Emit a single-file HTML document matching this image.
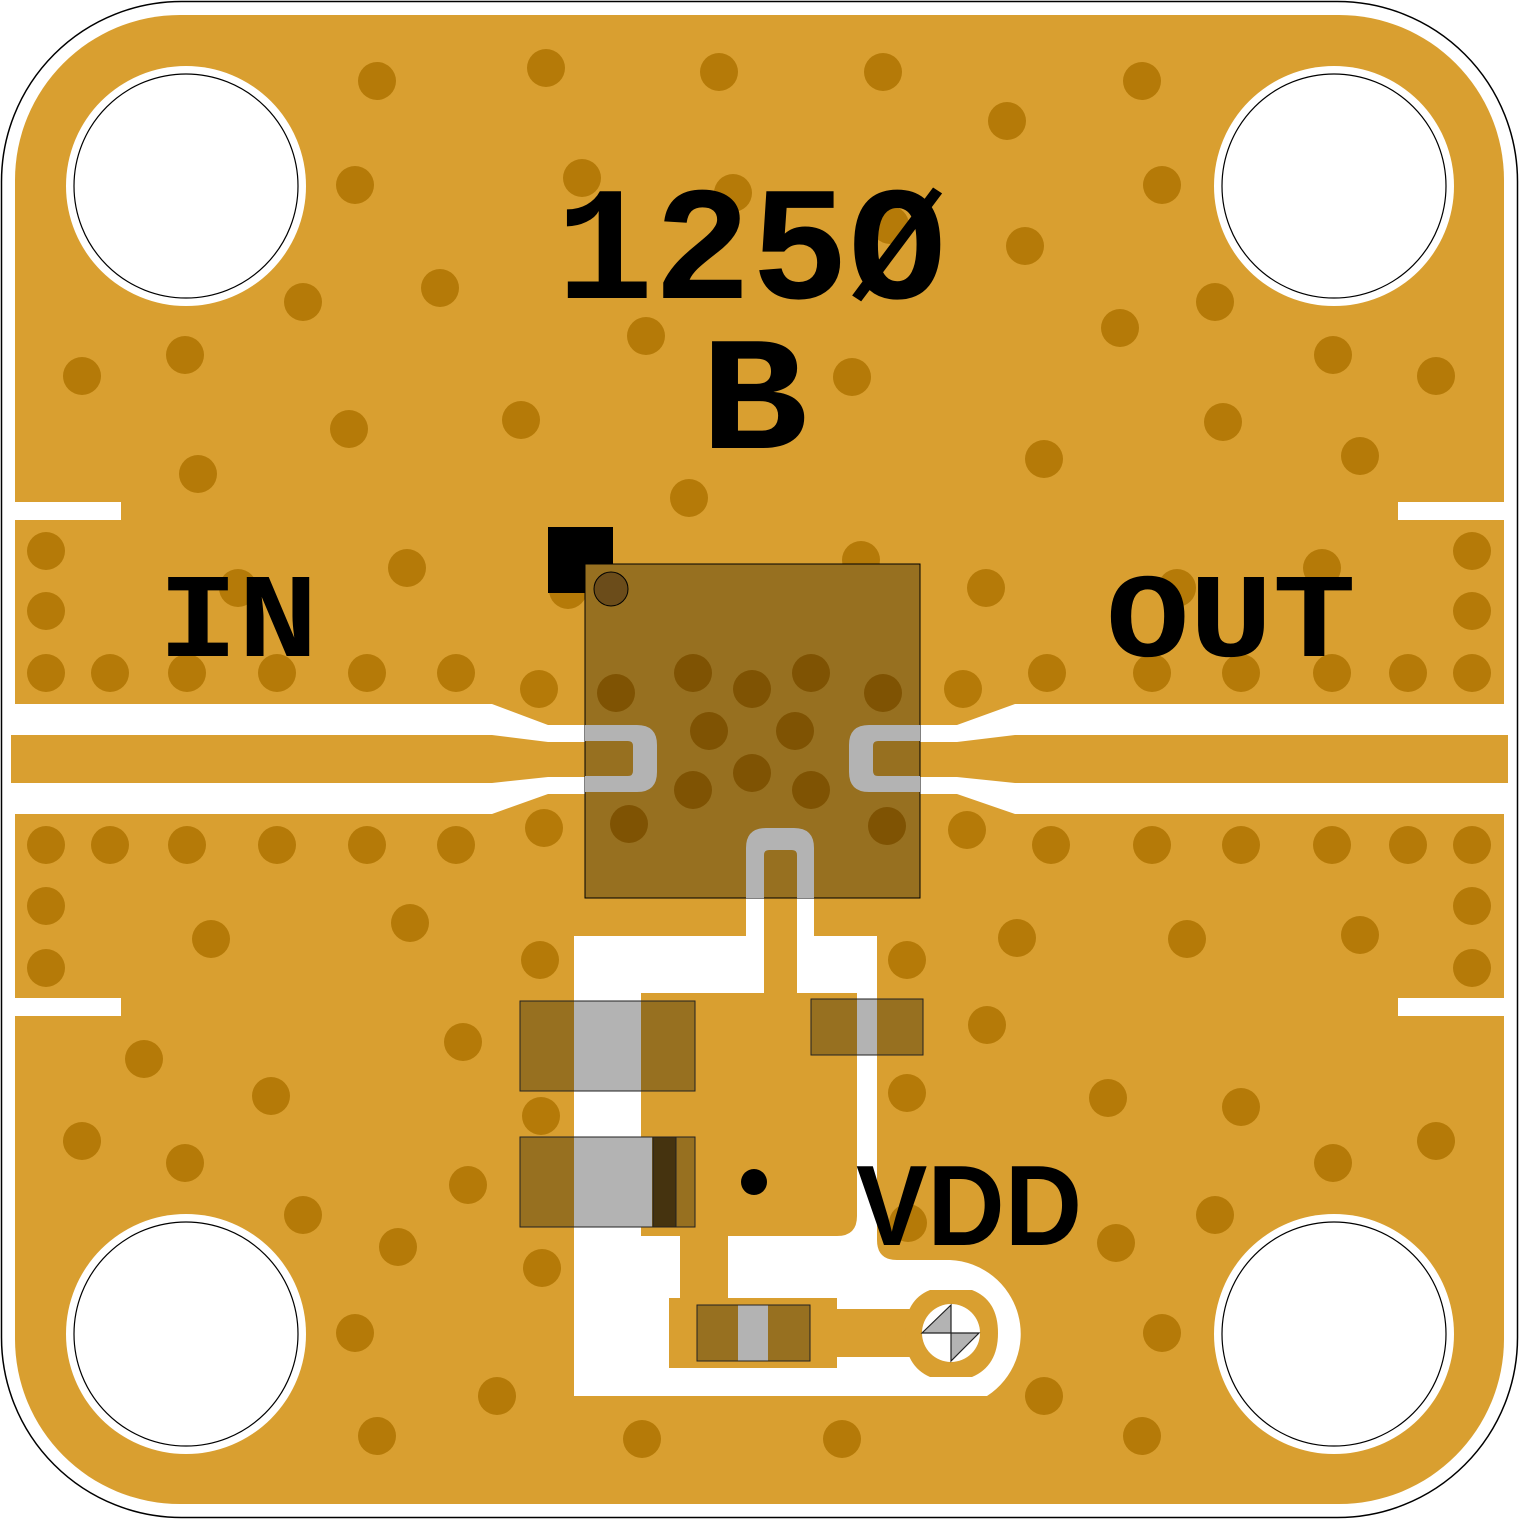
<!DOCTYPE html>
<html><head><meta charset="utf-8"><style>
html,body{margin:0;padding:0;background:#fff}
svg{display:block}
</style></head><body>
<svg width="1519" height="1519" viewBox="0 0 1519 1519" xmlns="http://www.w3.org/2000/svg">
<rect x="1.5" y="1.5" width="1516" height="1516" rx="180" fill="#fff" stroke="#000" stroke-width="1.5"/>
<rect x="15" y="15" width="1489" height="1489" rx="165" fill="#d99f30"/>
<rect x="15" y="502" width="106" height="18" fill="#fff"/>
<rect x="15" y="998" width="106" height="18" fill="#fff"/>
<rect x="1398" y="502" width="106" height="18" fill="#fff"/>
<rect x="1398" y="998" width="106" height="18" fill="#fff"/>
<path d="M11,704 L492,704 L548,725 L957,725 L1015,704 L1508,704 L1508,814 L1015,814 L957,794 L548,794 L492,814 L11,814 Z" fill="#fff"/>
<path d="M11,735 L492,735 L548,742 L957,742 L1015,735 L1508,735 L1508,783 L1015,783 L957,777 L548,777 L492,783 L11,783 Z" fill="#d99f30"/>
<g fill="#b57a08">
<circle cx="377" cy="81" r="19"/><circle cx="546" cy="68" r="19"/><circle cx="719" cy="72" r="19"/><circle cx="883" cy="72" r="19"/><circle cx="1142" cy="81" r="19"/><circle cx="1007" cy="121" r="19"/><circle cx="355" cy="185" r="19"/><circle cx="582" cy="178" r="19"/><circle cx="733" cy="193" r="19"/><circle cx="1162" cy="185" r="19"/><circle cx="303" cy="302" r="19"/><circle cx="440" cy="288" r="19"/><circle cx="1025" cy="246" r="19"/><circle cx="890" cy="225" r="19"/><circle cx="1215" cy="302" r="19"/><circle cx="185" cy="355" r="19"/><circle cx="82" cy="376" r="19"/><circle cx="646" cy="336" r="19"/><circle cx="852" cy="377" r="19"/><circle cx="1120" cy="328" r="19"/><circle cx="1333" cy="355" r="19"/><circle cx="1436" cy="376" r="19"/><circle cx="349" cy="429" r="19"/><circle cx="521" cy="420" r="19"/><circle cx="1223" cy="422" r="19"/><circle cx="1360" cy="456" r="19"/><circle cx="198" cy="474" r="19"/><circle cx="1044" cy="459" r="19"/><circle cx="689" cy="498" r="19"/><circle cx="861" cy="560" r="19"/><circle cx="407" cy="568" r="19"/><circle cx="238" cy="588" r="19"/><circle cx="986" cy="588" r="19"/><circle cx="1322" cy="568" r="19"/><circle cx="1177" cy="588" r="19"/><circle cx="568" cy="590" r="19"/>
<circle cx="46" cy="551" r="19"/><circle cx="46" cy="611" r="19"/><circle cx="46" cy="673" r="19"/><circle cx="110" cy="673" r="19"/><circle cx="187" cy="673" r="19"/><circle cx="277" cy="673" r="19"/><circle cx="367" cy="673" r="19"/><circle cx="456" cy="673" r="19"/><circle cx="539" cy="689" r="19"/><circle cx="963" cy="689" r="19"/><circle cx="1047" cy="673" r="19"/><circle cx="1152" cy="673" r="19"/><circle cx="1241" cy="673" r="19"/><circle cx="1332" cy="673" r="19"/><circle cx="1408" cy="673" r="19"/><circle cx="1472" cy="673" r="19"/><circle cx="1472" cy="611" r="19"/><circle cx="1472" cy="551" r="19"/>
<circle cx="46" cy="845" r="19"/><circle cx="110" cy="845" r="19"/><circle cx="187" cy="845" r="19"/><circle cx="277" cy="845" r="19"/><circle cx="367" cy="845" r="19"/><circle cx="456" cy="845" r="19"/><circle cx="544" cy="828" r="19"/><circle cx="967" cy="830" r="19"/><circle cx="1051" cy="845" r="19"/><circle cx="1152" cy="845" r="19"/><circle cx="1241" cy="845" r="19"/><circle cx="1332" cy="845" r="19"/><circle cx="1408" cy="845" r="19"/><circle cx="1472" cy="845" r="19"/><circle cx="46" cy="906" r="19"/><circle cx="46" cy="968" r="19"/><circle cx="1472" cy="906" r="19"/><circle cx="1472" cy="968" r="19"/>
<circle cx="211" cy="939" r="19"/><circle cx="410" cy="923" r="19"/><circle cx="540" cy="960" r="19"/><circle cx="907" cy="960" r="19"/><circle cx="1017" cy="938" r="19"/><circle cx="1187" cy="939" r="19"/><circle cx="1360" cy="935" r="19"/><circle cx="987" cy="1025" r="19"/><circle cx="463" cy="1042" r="19"/><circle cx="144" cy="1059" r="19"/><circle cx="271" cy="1096" r="19"/><circle cx="541" cy="1116" r="19"/><circle cx="907" cy="1093" r="19"/><circle cx="1108" cy="1098" r="19"/><circle cx="1241" cy="1107" r="19"/><circle cx="82" cy="1141" r="19"/><circle cx="185" cy="1163" r="19"/><circle cx="468" cy="1185" r="19"/><circle cx="1436" cy="1141" r="19"/><circle cx="1333" cy="1163" r="19"/><circle cx="303" cy="1215" r="19"/><circle cx="398" cy="1247" r="19"/><circle cx="542" cy="1268" r="19"/><circle cx="1215" cy="1215" r="19"/><circle cx="1116" cy="1243" r="19"/><circle cx="908" cy="1223" r="19"/><circle cx="355" cy="1333" r="19"/><circle cx="1162" cy="1333" r="19"/><circle cx="497" cy="1396" r="19"/><circle cx="1044" cy="1396" r="19"/><circle cx="377" cy="1436" r="19"/><circle cx="642" cy="1439" r="19"/><circle cx="842" cy="1439" r="19"/><circle cx="1142" cy="1436" r="19"/>
</g>
<g>
<circle cx="186" cy="186" r="120" fill="#fff"/><circle cx="186" cy="186" r="112" fill="#fff" stroke="#000" stroke-width="1.2"/>
<circle cx="1334" cy="186" r="120" fill="#fff"/><circle cx="1334" cy="186" r="112" fill="#fff" stroke="#000" stroke-width="1.2"/>
<circle cx="186" cy="1334" r="120" fill="#fff"/><circle cx="186" cy="1334" r="112" fill="#fff" stroke="#000" stroke-width="1.2"/>
<circle cx="1334" cy="1334" r="120" fill="#fff"/><circle cx="1334" cy="1334" r="112" fill="#fff" stroke="#000" stroke-width="1.2"/>
</g>
<path d="M574,936 L746,936 L746,898 L814,898 L814,936 L877,936 L877,1240 Q877,1260 897,1260 L950,1260 A74,74 0 0 1 987,1396 L574,1396 Z" fill="#fff"/>
<g fill="#d99f30">
<rect x="764" y="860" width="33" height="140"/>
<path d="M641,993 L857,993 L857,1216 Q857,1236 837,1236 L728,1236 L728,1298 L837,1298 L837,1309 L912,1309 L912,1357 L837,1357 L837,1368 L669,1368 L669,1298 L680,1298 L680,1236 L641,1236 Z"/>
<path d="M930,1290 L972,1290 Q998,1300 998,1333 Q998,1366 972,1377 L930,1377 Q905,1366 905,1333 Q905,1300 930,1290 Z"/>
</g>
<circle cx="951" cy="1333" r="29" fill="#fff"/>
<path d="M951,1305 L951,1333 L922,1333 Z M951,1333 L979,1333 L951,1361 Z" fill="#b3b3b3" stroke="#222" stroke-width="1.2"/>
<circle cx="754" cy="1182" r="13" fill="#000"/>
<rect x="548" y="527" width="65" height="66" fill="#000"/>
<rect x="585" y="564" width="335" height="334" fill="#977020" stroke="#000" stroke-width="1"/>
<g fill="#7f5303">
<circle cx="616" cy="693" r="19"/><circle cx="693" cy="673" r="19"/><circle cx="752" cy="689" r="19"/><circle cx="811" cy="673" r="19"/><circle cx="883" cy="693" r="19"/><circle cx="709" cy="731" r="19"/><circle cx="795" cy="731" r="19"/><circle cx="693" cy="790" r="19"/><circle cx="752" cy="773" r="19"/><circle cx="811" cy="790" r="19"/><circle cx="629" cy="824" r="19"/><circle cx="887" cy="826" r="19"/>
</g>
<circle cx="611" cy="589" r="17" fill="#6b4c1a" stroke="#000" stroke-width="1"/>
<g fill="#b3b3b3" fill-rule="evenodd">
<path d="M585,725 L637,725 Q657,725 657,745 L657,772 Q657,792 637,792 L585,792 Z M585,741 L628,741 Q633,741 633,746 L633,771 Q633,776 628,776 L585,776 Z"/>
<path d="M920,725 L869,725 Q849,725 849,745 L849,772 Q849,792 869,792 L920,792 Z M920,741 L878,741 Q873,741 873,746 L873,771 Q873,776 878,776 L920,776 Z"/>
<path d="M746,898 L746,848 Q746,828 766,828 L794,828 Q814,828 814,848 L814,898 L797,898 L797,855 Q797,850 792,850 L769,850 Q764,850 764,855 L764,898 Z"/>
</g>
<rect x="520" y="1001" width="175" height="90" fill="#977020" stroke="#222" stroke-width="1"/>
<rect x="574" y="1001.5" width="67" height="89" fill="#b3b3b3"/>
<rect x="520" y="1137" width="175" height="90" fill="#977020" stroke="#222" stroke-width="1"/>
<rect x="574" y="1137.5" width="78" height="89" fill="#b3b3b3"/>
<rect x="653" y="1137" width="23" height="90" fill="#45330f" stroke="#222" stroke-width="1"/>
<rect x="811" y="999" width="112" height="56" fill="#977020" stroke="#222" stroke-width="1"/>
<rect x="857" y="999.5" width="20" height="55" fill="#b3b3b3"/>
<rect x="697" y="1305" width="113" height="56" fill="#977020" stroke="#222" stroke-width="1"/>
<rect x="738" y="1305.5" width="30" height="55" fill="#b3b3b3"/>
<g fill="#000" font-family="'Liberation Mono', monospace" font-weight="bold">
<text x="556" y="298" font-size="162" textLength="390" lengthAdjust="spacingAndGlyphs">125Ø</text>
<text x="700" y="448" font-size="162" textLength="108" lengthAdjust="spacingAndGlyphs">B</text>
<text x="158" y="656" font-size="120" textLength="160" lengthAdjust="spacingAndGlyphs">IN</text>
<text x="1106" y="656" font-size="120" textLength="250" lengthAdjust="spacingAndGlyphs">OUT</text>
</g>
<text x="856" y="1245" font-family="'Liberation Sans', sans-serif" font-weight="bold" font-size="114" textLength="226" lengthAdjust="spacingAndGlyphs" fill="#000">VDD</text>
</svg>
</body></html>
